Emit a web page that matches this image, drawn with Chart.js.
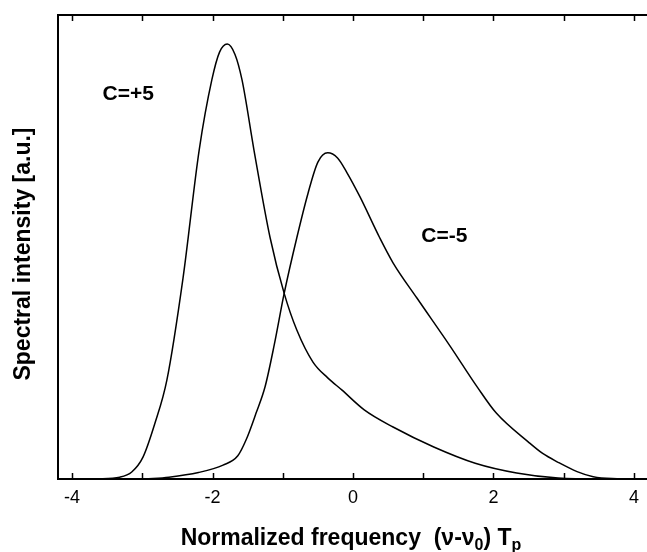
<!DOCTYPE html>
<html>
<head>
<meta charset="utf-8">
<script src="https://cdn.jsdelivr.net/npm/chart.js@4"></script>
<style>
  html, body { margin: 0; padding: 0; overflow: hidden; background: #fff; }
  #wrap { width: 680px; height: 552px; }
</style>
</head>
<body>
<div id="wrap"><canvas id="spectrum"></canvas></div>
<script>
// Spectra (normalized frequency vs intensity, a.u.)
const freqPlus = [-3.67, -3.32, -3.15, -2.99, -2.82, -2.65, -2.42, -2.19, -2.01, -1.90, -1.79, -1.68, -1.58, -1.41, -1.18, -0.98, -0.80, -0.57, -0.36, -0.16, 0.16, 0.57, 1.15, 1.74, 2.33, 2.92, 3.52, 4.2];
const intensityPlus = [0, 0.004, 0.015, 0.047, 0.12, 0.213, 0.433, 0.709, 0.86, 0.92, 0.9375, 0.915, 0.86, 0.709, 0.52, 0.40, 0.321, 0.252, 0.218, 0.192, 0.149, 0.112, 0.069, 0.034, 0.013, 0.002, 0, 0];

const freqMinus = [-2.96, -2.62, -2.2, -1.85, -1.64, -1.52, -1.38, -1.25, -1.12, -0.98, -0.80, -0.64, -0.50, -0.36, -0.22, -0.085, 0.10, 0.38, 0.57, 0.91, 1.38, 1.77, 2.04, 2.51, 2.70, 2.92, 3.19, 3.42, 3.69, 4.2];
const intensityMinus = [0, 0.004, 0.014, 0.03, 0.05, 0.085, 0.142, 0.20, 0.29, 0.40, 0.52, 0.616, 0.683, 0.703, 0.692, 0.66, 0.608, 0.52, 0.466, 0.39, 0.287, 0.198, 0.142, 0.078, 0.055, 0.036, 0.016, 0.005, 0.001, 0];

const xTicks = [-4, -3, -2, -1, 0, 1, 2, 3, 4];
const curveLabels = [
    { text: "C=+5", x: -3.2, y: 0.83 },
    { text: "C=-5", x: 1.3, y: 0.524 },
];

const FONT = '"Liberation Sans", Arial, Helvetica, sans-serif';

function toPoints(xs, ys) {
    return xs.map((x, i) => ({ x, y: ys[i] }));
}

// top frame, inward tick marks, annotations and axis titles
const decorations = {
    id: "decorations",
    afterDraw(chart) {
        const { ctx, chartArea: a, scales: { x, y } } = chart;
        ctx.save();
        ctx.strokeStyle = "#000";
        ctx.fillStyle = "#000";

        ctx.lineWidth = 2;
        ctx.beginPath();
        ctx.moveTo(a.left - 1, a.top);
        ctx.lineTo(a.right, a.top);
        ctx.stroke();

        ctx.lineWidth = 1.5;
        ctx.beginPath();
        x.ticks.forEach(t => {
            const px = Math.round(x.getPixelForValue(t.value)) + 0.5;
            ctx.moveTo(px, a.bottom);
            ctx.lineTo(px, a.bottom - 6);
            ctx.moveTo(px, a.top);
            ctx.lineTo(px, a.top + 6);
        });
        ctx.stroke();

        ctx.font = "bold 21px " + FONT;
        ctx.textAlign = "center";
        ctx.textBaseline = "middle";
        curveLabels.forEach(l => {
            ctx.fillText(l.text, x.getPixelForValue(l.x), y.getPixelForValue(l.y));
        });

        // y title
        ctx.save();
        ctx.translate(24, 254);
        ctx.rotate(-Math.PI / 2);
        ctx.font = "bold 23px " + FONT;
        ctx.fillText("Spectral intensity [a.u.]", 0, 0);
        ctx.restore();

        // x title with subscripts
        const parts = [
            { t: "Normalized frequency  (\u03bd-\u03bd", sub: false },
            { t: "0", sub: true },
            { t: ") T", sub: false },
            { t: "p", sub: true },
        ];
        const big = "bold 23px " + FONT, small = "bold 16px " + FONT;
        let total = 0;
        parts.forEach(p => { ctx.font = p.sub ? small : big; total += ctx.measureText(p.t).width; });
        let cx = 351 - total / 2;
        ctx.textAlign = "left";
        ctx.textBaseline = "alphabetic";
        parts.forEach(p => {
            ctx.font = p.sub ? small : big;
            ctx.fillText(p.t, cx, p.sub ? 550 : 545);
            cx += ctx.measureText(p.t).width;
        });
        ctx.restore();
    }
};

function renderChart() {
    const ctx = document.getElementById("spectrum").getContext("2d");
    new Chart(ctx, {
        type: "line",
        data: {
            datasets: [
                {
                    label: "C=+5",
                    data: toPoints(freqPlus, intensityPlus),
                    borderColor: "#000",
                    borderWidth: 1.5,
                    pointRadius: 0,
                    cubicInterpolationMode: "monotone",
                    fill: false,
                },
                {
                    label: "C=-5",
                    data: toPoints(freqMinus, intensityMinus),
                    borderColor: "#000",
                    borderWidth: 1.5,
                    pointRadius: 0,
                    cubicInterpolationMode: "monotone",
                    fill: false,
                },
            ]
        },
        options: {
            responsive: true,
            maintainAspectRatio: false,
            animation: false,
            layout: { padding: { left: 0, top: 15, right: 32, bottom: 0 } },
            plugins: { legend: { display: false }, tooltip: { enabled: false } },
            scales: {
                x: {
                    type: "linear",
                    min: -4.2,
                    max: 4.2,
                    afterBuildTicks: s => { s.ticks = xTicks.map(v => ({ value: v })); },
                    afterFit: s => { s.height = 73; },
                    grid: { display: false, drawTicks: false },
                    border: { display: true, color: "#000", width: 2 },
                    ticks: {
                        color: "#000",
                        padding: 8,
                        maxRotation: 0,
                        autoSkip: false,
                        font: { family: FONT, size: 18 },
                        callback: v => (v % 2 === 0 ? String(v) : ""),
                    },
                },
                y: {
                    min: 0,
                    max: 1,
                    afterFit: s => { s.width = 58; },
                    grid: { display: false, drawTicks: false },
                    border: { display: true, color: "#000", width: 2 },
                    ticks: { display: false },
                },
            },
        },
        plugins: [decorations],
    });
}

document.addEventListener("DOMContentLoaded", renderChart);
</script>
</body>
</html>
